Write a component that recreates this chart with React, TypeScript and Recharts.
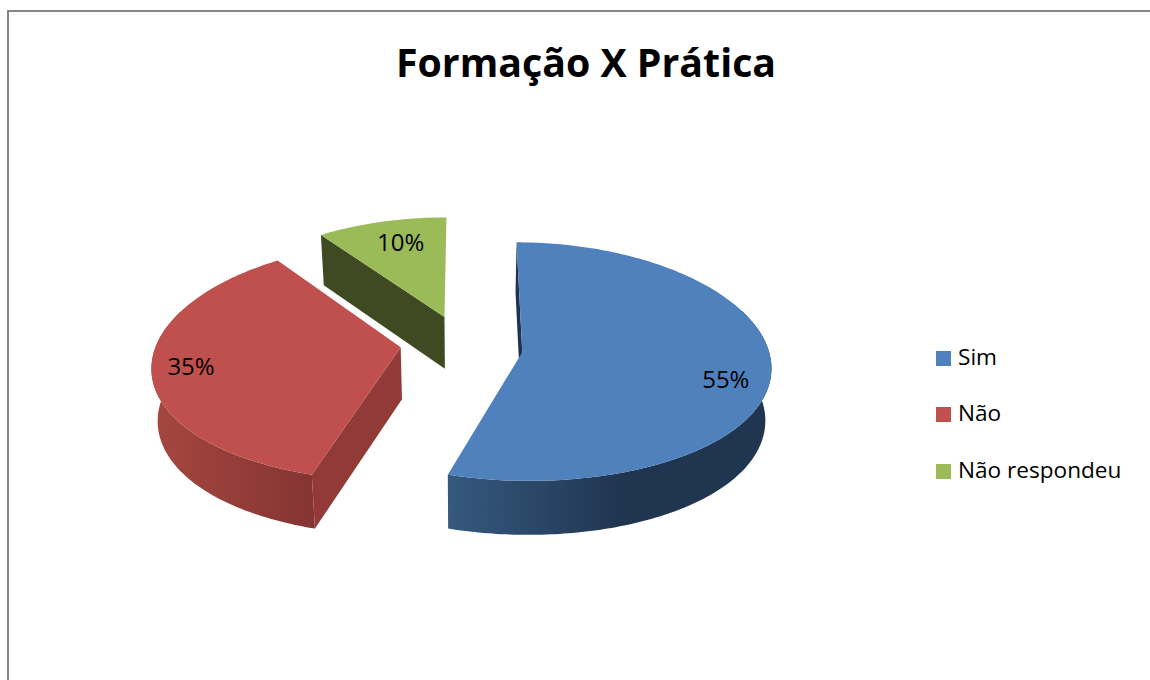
import { PieChart, Pie, Legend } from 'recharts'

const categories = ['Sim', 'Não', 'Não respondeu']
const values = [55, 35, 10]
const topColors = ['#4f81bd', '#c0504d', '#9bbb59']
const title = 'Formação X Prática'

const FONT = '"Open Sans", sans-serif'

// fake 3D: tilt of the pie plane, perspective strength and wall height
const TILT = 0.467
const PERSPECTIVE_Y = 0.079
const PERSPECTIVE_X = 0.11
const WIDTH = 0.975
const WALL = 52
const BOTTOM_SCALE = 0.98
const RADIUS = 252

// how far each slice is pulled out of the pie, in plane units (right, forward)
const EXPLODE = [
  [57, 11],
  [-64, 11],
  [-21, -52],
]
// the inner corner sits a little higher than the arc suggests on the two left slices
const APEX_LIFT = [0, 5, 6]

// wall shading per slice: near colour, far colour, where the far colour is reached
const WALL_SHADES = [
  ['#36597f', '#203550', '54%'],
  ['#a6473f', '#843433', '100%'],
  ['#3f4a23', '#3f4a23', '100%'],
]
const CUT_COLORS = ['#1f3350', '#923a37', '#3f4a23']

// nudges for the percent labels, from the projected point at 80% of the radius
const LABEL_NUDGE = [
  [5, 11],
  [-11, -2],
  [7, 1],
]

const data = categories.map((name, i) => ({ name, value: values[i], fill: topColors[i] }))

function warp(deg: number) {
  // the boundaries look slightly steeper than a pure ellipse in the picture
  return deg - 1.5 * Math.sin((2 * deg * Math.PI) / 180)
}

function project(cx: number, cy: number, R: number, x: number, v: number, bottom: boolean) {
  const wx = 1 - (PERSPECTIVE_X * v) / R
  const wy = 1 - (PERSPECTIVE_Y * v) / R
  const k = bottom ? BOTTOM_SCALE : 1
  return [cx + (k * x) / wx, cy + (k * TILT * v + (bottom ? WALL : 0)) / wy]
}

function planePoint(R: number, index: number, deg: number, r: number) {
  const a = (warp(deg) * Math.PI) / 180
  return [EXPLODE[index][0] + r * R * WIDTH * Math.sin(a), EXPLODE[index][1] - r * R * Math.cos(a)]
}

function toPath(points: number[][]) {
  return 'M' + points.map((p) => `${p[0].toFixed(2)},${p[1].toFixed(2)}`).join('L') + 'Z'
}

function Slice3D(props: any) {
  const { cx, cy, outerRadius: R, startAngle, endAngle, name, fill } = props
  const index = categories.indexOf(name)
  const from = 90 - startAngle
  const to = 90 - endAngle

  const at = (deg: number, r: number, bottom: boolean) => {
    const [x, v] = planePoint(R, index, deg, r)
    return project(cx, cy, R, x, v, bottom)
  }

  const arcTop: number[][] = []
  for (let d = from; d < to; d += 1) arcTop.push(at(d, 1, false))
  arcTop.push(at(to, 1, false))

  // the wall only shows on the front of the pie
  const wallFrom = Math.max(from, 70)
  const wallTo = Math.min(to, 290)
  const wallTop: number[][] = []
  const wallBottom: number[][] = []
  for (let d = wallFrom; d <= wallTo; d += 1) {
    wallTop.push(at(d, 1, false))
    wallBottom.unshift(at(d, 1, true))
  }

  const apexTop = at(0, 0, false)
  const apexBottom = at(0, 0, true)
  apexTop[1] -= APEX_LIFT[index]
  apexBottom[1] -= APEX_LIFT[index]
  const first = arcTop[0]
  const last = arcTop[arcTop.length - 1]
  const gradientId = `wall-${index}`
  const shade = WALL_SHADES[index]

  return (
    <g>
      <defs>
        <linearGradient id={gradientId} x1="0" y1="0" x2="1" y2="0">
          <stop offset="0%" stopColor={shade[0]} />
          <stop offset={shade[2]} stopColor={shade[1]} />
        </linearGradient>
      </defs>
      {/* outer wall */}
      {wallTop.length > 1 && <path d={toPath([...wallTop, ...wallBottom])} fill={`url(#${gradientId})`} />}
      {/* cut faces, only those turned to the viewer */}
      {first[0] < apexTop[0] && (
        <path d={toPath([apexTop, first, at(from, 1, true), apexBottom])} fill={CUT_COLORS[index]} />
      )}
      {last[0] > apexTop[0] + 3 && (
        <path d={toPath([apexTop, last, at(to, 1, true), apexBottom])} fill={CUT_COLORS[index]} />
      )}
      {/* top */}
      <path d={toPath([apexTop, ...arcTop])} fill={fill} />
    </g>
  )
}

function renderLabel(props: any) {
  const { cx, cy, outerRadius: R, midAngle, name, value } = props
  const index = categories.indexOf(name)
  const [x, v] = planePoint(R, index, 90 - midAngle, 0.8)
  const p = project(cx, cy, R, x, v, false)
  return (
    <text
      x={p[0] + LABEL_NUDGE[index][0]}
      y={p[1] + LABEL_NUDGE[index][1]}
      fill="#000"
      fontFamily={FONT}
      fontSize={24}
      textAnchor="middle"
      dominantBaseline="central"
    >
      {`${value}%`}
    </text>
  )
}

function renderLegend(props: any) {
  return (
    <div>
      {props.payload.map((item: any) => (
        <div key={item.value} style={{ display: 'flex', alignItems: 'center', height: 56.5 }}>
          <span style={{ width: 15, height: 15, background: item.color, marginRight: 7 }} />
          <span style={{ fontFamily: FONT, fontSize: 22.6, lineHeight: '30px', marginTop: -3, color: '#000', whiteSpace: 'nowrap' }}>{item.value}</span>
        </div>
      ))}
    </div>
  )
}

export default function App() {
  return (
    <div style={{ position: 'absolute', left: 0, top: 0, width: 1150, height: 680, overflow: 'hidden', background: '#fff' }}>
      <div
        style={{
          position: 'absolute',
          left: 7,
          top: 10,
          width: 1200,
          height: 720,
          border: '2px solid #868686',
        }}
      />
      <div
        style={{
          position: 'absolute',
          left: 0,
          top: 32,
          width: 1172,
          textAlign: 'center',
          fontFamily: FONT,
          fontWeight: 700,
          fontSize: 39.3,
          lineHeight: '60px',
          color: '#000',
        }}
      >
        {title}
      </div>
      <div style={{ position: 'absolute', left: 0, top: 0 }}>
        <PieChart width={1150} height={680} margin={{ top: 0, right: 0, bottom: 0, left: 0 }}>
          <Pie
            data={data}
            dataKey="value"
            nameKey="name"
            cx={465}
            cy={347}
            outerRadius={RADIUS}
            startAngle={90}
            endAngle={-270}
            stroke="none"
            shape={Slice3D}
            label={renderLabel}
            labelLine={false}
            isAnimationActive={false}
          />
          <Legend
            layout="vertical"
            align="right"
            verticalAlign="top"
            itemSorter={null}
            content={renderLegend}
            wrapperStyle={{ left: 936, top: 330, width: 210 }}
          />
        </PieChart>
      </div>
    </div>
  )
}
